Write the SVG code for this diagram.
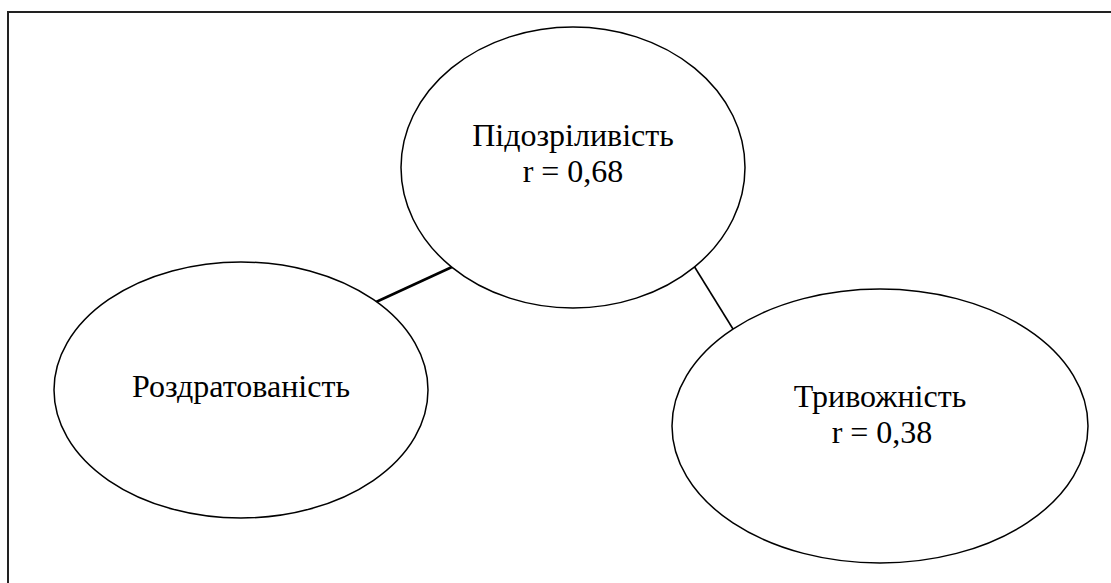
<svg xmlns="http://www.w3.org/2000/svg" width="1111" height="583" viewBox="0 0 1111 583">
<style>
.n{fill:#fff;stroke:#000;stroke-width:1.5}
.t{font-family:"Liberation Serif","Times New Roman",serif;font-size:32px;fill:#000;text-anchor:middle}
.c{stroke:#000;fill:none}
</style>
<rect x="8" y="12" width="1120" height="600" fill="#fff" stroke="#222" stroke-width="2"/>
<g id="connectors">
<line class="c" stroke-width="2.5" x1="376" y1="302" x2="452" y2="267"/>
<line class="c" stroke-width="1.6" x1="694" y1="266" x2="733" y2="329"/>
</g>
<g id="n1">
<ellipse class="n" cx="573" cy="167.5" rx="172" ry="140.5"/>
<text class="t" x="573" y="146">Підозріливість</text>
<text class="t" x="573" y="182">r = 0,68</text>
</g>
<g id="n2">
<ellipse class="n" cx="241" cy="390" rx="187" ry="128"/>
<text class="t" x="241" y="397">Роздратованість</text>
</g>
<g id="n3">
<ellipse class="n" cx="880" cy="426" rx="208" ry="137"/>
<text class="t" x="880" y="407">Тривожність</text>
<text class="t" x="882" y="443">r = 0,38</text>
</g>
</svg>
